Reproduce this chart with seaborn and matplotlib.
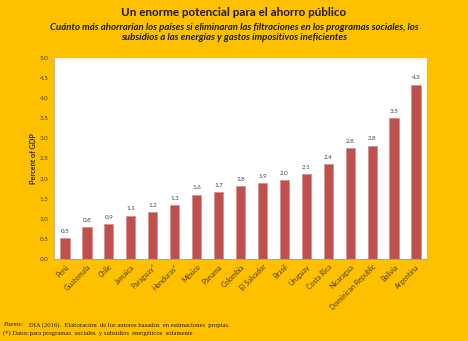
import matplotlib
matplotlib.use("Agg")
import matplotlib.pyplot as plt
import seaborn as sns
import pandas as pd

countries = ["Perú", "Guatemala", "Chile", "Jamaica", "Paraguay*", "Honduras*", "México",
             "Panama", "Colombia", "El Salvador", "Brasil", "Uruguay", "Costa Rica",
             "Nicaragua", "Dominican Republic", "Bolivia", "Argentina"]
values = [0.53, 0.79, 0.87, 1.08, 1.16, 1.34, 1.60, 1.67, 1.81, 1.88, 1.97, 2.12, 2.37,
          2.76, 2.82, 3.50, 4.34]
value_labels = ["0.5", "0.8", "0.9", "1.1", "1.2", "1.3", "1.6", "1.7", "1.8", "1.9", "2.0",
                "2.1", "2.4", "2.8", "2.8", "3.5", "4.3"]
yticks = [0.0, 0.5, 1.0, 1.5, 2.0, 2.5, 3.0, 3.5, 4.0, 4.5, 5.0]

df = pd.DataFrame({"country": countries, "value": values})

sns.set_style("white")
plt.rcParams['font.family'] = ['Lato', 'DejaVu Sans']

gold = "#FFC000"
fig = plt.figure(figsize=(4.68, 3.41), dpi=100, facecolor=gold)
ax = fig.add_axes([0.1154, 0.2405, 0.7970, 0.5895])
ax.set_facecolor("white")

sns.barplot(data=df, x="country", y="value", color="#C0504D", width=0.42,
            edgecolor="#D9908E", linewidth=0.6, saturation=1, ax=ax)

ax.bar_label(ax.containers[0], labels=value_labels, padding=3, fontsize=4.5, color="#404040")

ax.set_ylim(0, 5.0)
ax.set_xlim(-0.5, len(countries) - 0.5)
ax.set_yticks(yticks)
ax.set_yticklabels([f"{t:.1f}" for t in yticks], fontsize=4.5, color="#404040")
ax.set_xticks(range(len(countries)))
ax.set_xticklabels(countries, rotation=45, ha="right", rotation_mode="anchor",
                   fontsize=5, color="#4A3A00")
ax.tick_params(axis="x", length=0, pad=3)
ax.tick_params(axis="y", length=2, width=0.5, color="#999999", pad=2)
ax.set_xticks([i - 0.5 for i in range(len(countries) + 1)], minor=True)
ax.tick_params(axis="x", which="minor", length=2, width=0.5, color="#999999")

for s in ["top", "right"]:
    ax.spines[s].set_visible(False)
ax.spines["left"].set_color("#999999")
ax.spines["left"].set_linewidth(0.5)
ax.spines["bottom"].set_color("#999999")
ax.spines["bottom"].set_linewidth(0.5)

ax.set_xlabel("")
ax.set_ylabel("Percent of GDP", fontsize=5.2, fontweight="bold", color="#262626", labelpad=2)

fig.text(0.5, 0.964, "Un enorme potencial para el ahorro público", ha="center", va="center",
         fontsize=8.4, fontweight="bold", color="#1a1a1a")
fig.text(0.5, 0.905,
         "Cuánto más ahorrarían los países si eliminaran las filtraciones en los programas sociales, los\n"
         "subsidios a las energías y gastos impositivos ineficientes",
         ha="center", va="center", fontsize=6.9, fontweight="bold", style="italic",
         color="#1a1a1a", linespacing=1.2)

fig.text(0.006, 0.047, "Fuente:", ha="left", va="center", fontsize=4.8, style="italic",
         family="Liberation Serif", color="#1a1a1a")
fig.text(0.062, 0.047, "DIA (2016).  Elaboración  de los autores basados  en estimaciones  propias.",
         ha="left", va="center", fontsize=4.8, family="Liberation Serif", color="#1a1a1a")
fig.text(0.006, 0.024, "(*) Datos para programas  sociales  y subsidios  energéticos  solamente",
         ha="left", va="center", fontsize=4.8, family="Liberation Serif", color="#1a1a1a")

fig.savefig("out.png", dpi=100, facecolor=gold)
